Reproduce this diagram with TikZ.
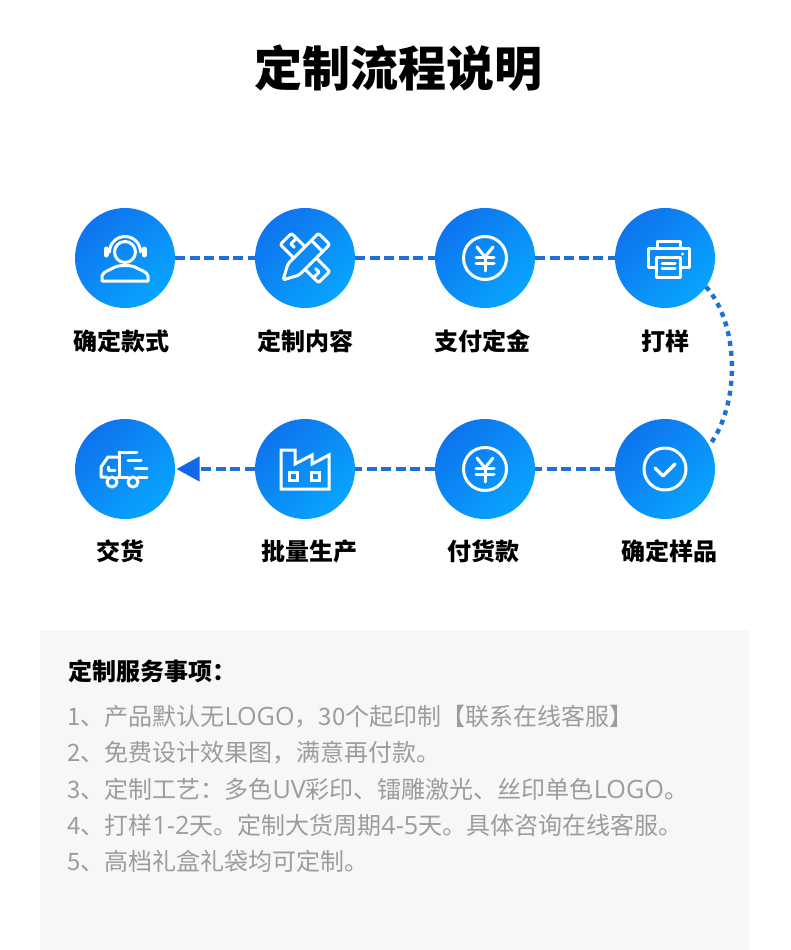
\documentclass[tikz,border=0pt]{standalone}
\usepackage{fontspec}
\usepackage{xcolor}
\usetikzlibrary{arrows.meta,positioning}
\setmainfont{Noto Sans CJK SC}
\newfontfamily\latfont[Scale=1.05]{Open Sans}
\newcommand{\lat}[1]{{\latfont #1}}
\definecolor{flowTop}{HTML}{0E74EE}
\definecolor{flowBot}{HTML}{08A4FF}
\definecolor{flowLine}{HTML}{1E70D6}
\definecolor{flowTip}{HTML}{1169E8}
\definecolor{panelGray}{HTML}{F7F7F7}
\definecolor{noteGray}{HTML}{9C9C9C}
\tikzset{
  stepdot/.style={
    circle, minimum size=100pt, inner sep=0pt, outer sep=0pt,
    top color=flowTop, bottom color=flowBot, shading angle=45
  },
  steplabel/.style={font=\fontsize{24}{28}\selectfont\bfseries, text=black, inner sep=0pt},
  flowline/.style={line width=4pt, flowLine, dash pattern=on 10pt off 4.6pt},
  bendline/.style={line width=4.4pt, flowLine, dash pattern=on 5pt off 5pt},
  noteline/.style={font=\fontsize{24}{28}\selectfont, text=noteGray, anchor=west, inner sep=0pt},
  iconline/.style={draw=white, line width=3pt, line join=round, line cap=round},
  kefuicon/.pic={
    \draw[iconline] (0,6) circle (10.5);
    \draw[iconline] (-15.5,6) arc (180:0:15.5);
    \draw[iconline, line width=5pt] (-19,3) -- (-19,9);
    \draw[iconline, line width=5pt] (19,3) -- (19,9);
    \draw[iconline] (-23,-23) -- (23,-23) -- (23,-18) .. controls (22,-13) and (14,-12) .. (10,-9)
      .. controls (5,-7) and (-5,-7) .. (-10,-9) .. controls (-14,-12) and (-22,-13) .. (-23,-18) -- cycle;
  },
  designicon/.pic={
    \begin{scope}[rotate=-45]
      \draw[iconline, rounded corners=2pt] (-9,8) -- (-27,8) -- (-27,-8) -- (-9,-8);
      \draw[iconline] (-20,8) -- (-20,0) -- (-15,0);
      \draw[iconline, rounded corners=2pt] (9,8) -- (27,8) -- (27,-8) -- (9,-8);
      \draw[iconline] (20,-8) -- (20,0) -- (15,0);
    \end{scope}
    \begin{scope}[rotate=45]
      \draw[iconline, rounded corners=2pt] (-31,0) -- (-16,8) -- (27,8) -- (27,-8) -- (-16,-8) -- cycle;
      \draw[iconline] (17,8) -- (17,-8);
    \end{scope}
  },
  yenicon/.pic={
    \draw[iconline] (0,0) circle (21.5);
    \draw[iconline] (-8,11) -- (0,1) -- (8,11);
    \draw[iconline] (0,1) -- (0,-13);
    \draw[iconline] (-9,1) -- (9,1);
    \draw[iconline] (-9,-5) -- (9,-5);
  },
  printicon/.pic={
    \draw[iconline] (-8,10) -- (-8,17) -- (15,17) -- (15,10);
    \draw[iconline] (-9,-9) -- (-17,-9) -- (-17,10) -- (24,10) -- (24,-9) -- (15,-9);
    \draw[iconline] (-9,1) rectangle (15,-19);
    \draw[iconline] (-3,-5) -- (10,-5);
    \draw[iconline] (-3,-10) -- (10,-10);
    \fill[white] (17.5,4) circle (1.6);
  },
  checkicon/.pic={
    \draw[iconline] (0,0) circle (21);
    \draw[iconline, line width=3.4pt] (-10,1) -- (-2,-7) -- (10,5);
  },
  factoryicon/.pic={
    \draw[iconline, line cap=butt, line join=miter] (-24,19) -- (-10,19) -- (-10,5) -- (7,14) -- (7,5) -- (24,14) -- (24,-20) -- (-24,-20) -- cycle;
    \draw[iconline, line join=miter] (-16,-3) rectangle (-8,-11);
    \draw[iconline, line join=miter] (6,-3) rectangle (14,-11);
  },
  truckicon/.pic={
    \draw[iconline] (-6,17) -- (12,17);
    \draw[iconline] (3,9) -- (16,9);
    \draw[iconline] (10,1) -- (22,1);
    \draw[iconline] (-6,17) -- (-6,-8);
    \draw[iconline] (-6,12) -- (-17,12) -- (-24,2) -- (-24,-8) -- (-18,-8);
    \draw[iconline] (-8,-8) -- (3,-8);
    \draw[iconline] (13,-8) -- (22,-8);
    \draw[iconline] (-17,2) -- (-17,-1) -- (-10,-1);
    \draw[iconline] (-13,-13) circle (5);
    \draw[iconline] (8,-13) circle (5);
  }
}
\begin{document}
\begin{tikzpicture}[x=1pt, y=1pt]
  \useasboundingbox (0,0) rectangle (790,-950);
  \fill[panelGray] (40,-630) rectangle (750,-950);
  \node[font=\fontsize{48}{56}\selectfont\bfseries, inner sep=0pt] (title) at (398,-68) {定制流程说明};
  % upper row
  \node[stepdot] (kuanshi) at (125,-258) {};
  \node[stepdot, right=80pt of kuanshi] (neirong) {};
  \node[stepdot, right=80pt of neirong] (dingjin) {};
  \node[stepdot, right=80pt of dingjin] (dayang) {};
  % lower row
  \node[stepdot] (jiaohuo) at (125,-469) {};
  \node[stepdot, right=80pt of jiaohuo] (shengchan) {};
  \node[stepdot, right=80pt of shengchan] (huokuan) {};
  \node[stepdot, right=80pt of huokuan] (yangpin) {};
  \pic at (kuanshi) {kefuicon};
  \pic at (neirong) {designicon};
  \pic at (dingjin) {yenicon};
  \pic at (dayang) {printicon};
  \pic at (jiaohuo) {truckicon};
  \pic at (shengchan) {factoryicon};
  \pic at (huokuan) {yenicon};
  \pic at (yangpin) {checkicon};
  \node[steplabel] (lb1) at (121,-341) {确定款式};
  \node[steplabel] (lb2) at (305,-341) {定制内容};
  \node[steplabel] (lb3) at (482,-341) {支付定金};
  \node[steplabel] (lb4) at (665,-341) {打样};
  \node[steplabel] (lb5) at (120,-551) {交货};
  \node[steplabel] (lb6) at (309,-551) {批量生产};
  \node[steplabel] (lb7) at (483,-551) {付货款};
  \node[steplabel] (lb8) at (669,-551) {确定样品};
  \draw[flowline] (kuanshi) -- (neirong);
  \draw[flowline] (neirong) -- (dingjin);
  \draw[flowline] (dingjin) -- (dayang);
  \draw[bendline] (dayang.-35) .. controls (740,-325) and (740,-405) .. (yangpin.28);
  \draw[flowline] (yangpin) -- (huokuan);
  \draw[flowline] (huokuan) -- (shengchan);
  \draw[flowline, -{Triangle[length=23pt, width=24pt, color=flowTip]}, shorten >=1.5pt] (shengchan) -- (jiaohuo);
  \node[steplabel, anchor=west] (notehead) at (68,-671) {定制服务事项：};
  \node[noteline] (note1) at (67,-717) {1、产品默认无\lat{LOGO}，30个起印制【联系在线客服】};
  \node[noteline, below=36pt of note1.west, anchor=west] (note2) {2、免费设计效果图，满意再付款。};
  \node[noteline, below=36pt of note2.west, anchor=west] (note3) {3、定制工艺：多色\lat{UV}彩印、镭雕激光、丝印单色\lat{LOGO}。};
  \node[noteline, below=36pt of note3.west, anchor=west] (note4) {4、打样\lat{1-2}天。定制大货周期\lat{4-5}天。具体咨询在线客服。};
  \node[noteline, below=36pt of note4.west, anchor=west] (note5) {5、高档礼盒礼袋均可定制。};
\end{tikzpicture}
\end{document}
